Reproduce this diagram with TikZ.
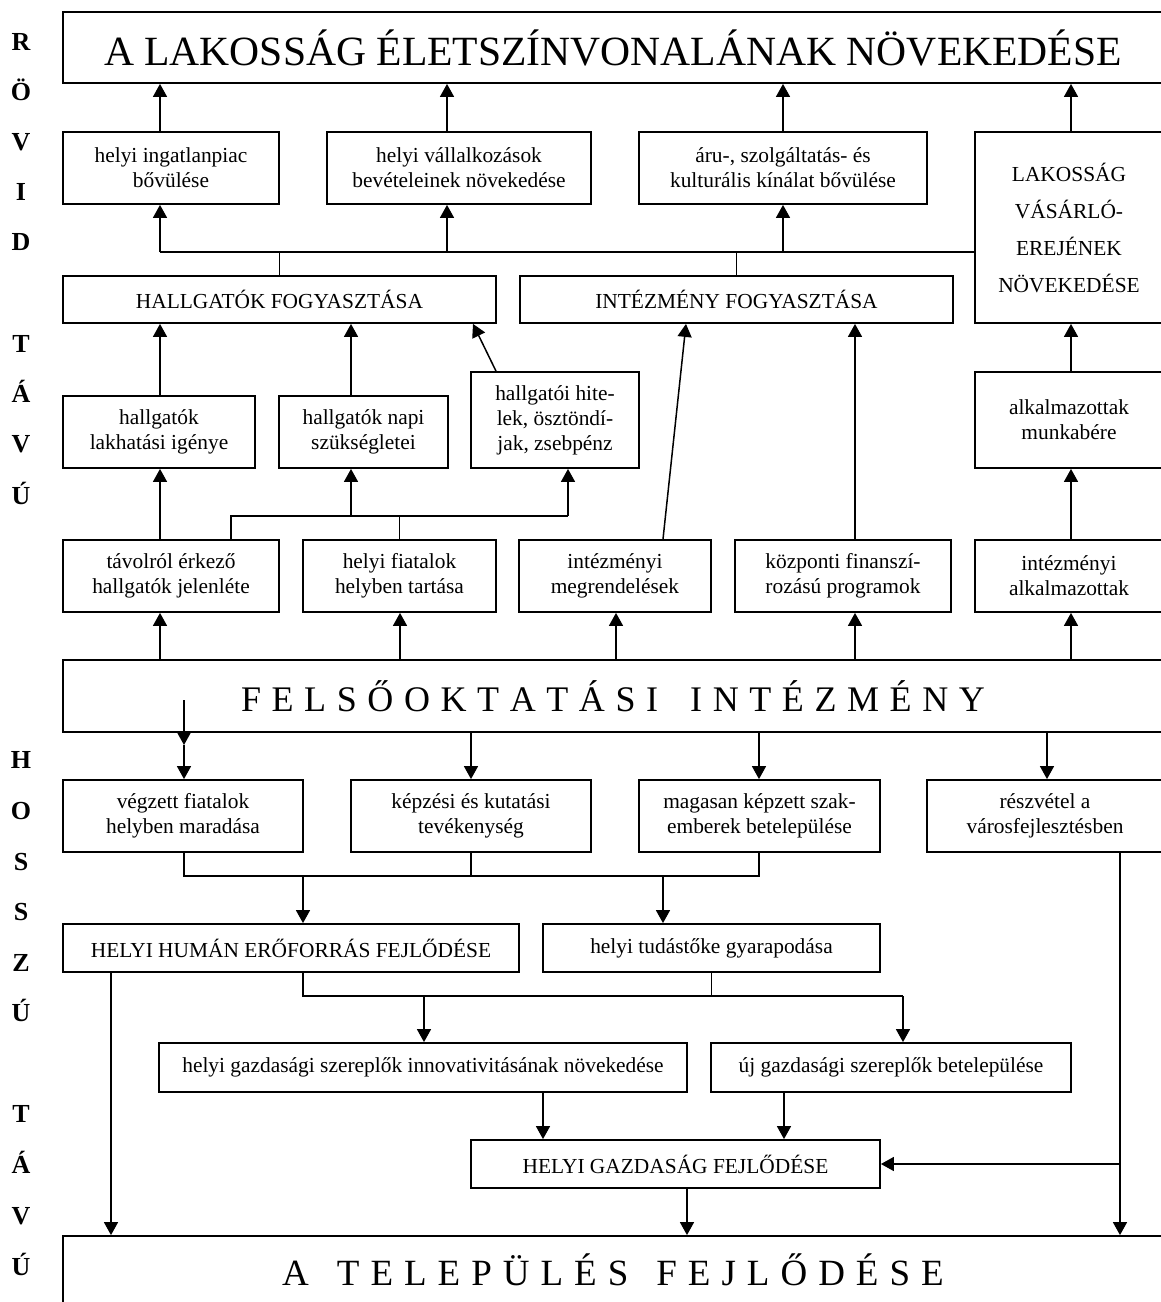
\documentclass[tikz,border=0pt]{standalone}
\usepackage{fontspec}
\setmainfont{Liberation Serif}
\usetikzlibrary{arrows.meta}
\tikzset{
  box/.style={draw,line width=0.9pt,inner sep=0pt,align=center,font=\fontsize{10.7}{12.5}\selectfont},
  arr/.style={line width=0.75pt,-{Triangle[length=6.5pt,width=7pt]}},
  ln/.style={line width=0.75pt},
  side/.style={anchor=base,inner sep=0pt,font=\fontsize{13}{15}\selectfont\bfseries}
}
\begin{document}
\begin{tikzpicture}[x=0.5pt,y=-0.5pt]
                \useasboundingbox (0,0) rectangle (1161,1302);

                % side letters
                \foreach \l/\y in {R/50,Ö/100,V/150,I/200,D/250,T/352,Á/402,V/452,Ú/504,
                    H/768,O/819,S/870,S/920,Z/971,Ú/1021,T/1122,Á/1173,V/1224,Ú/1275}
                    \node[side] (s\y) at (21,\y) {\l};

                % short term
                \node[box,minimum width=550pt,minimum height=35.5pt,font=\fontsize{20.8}{24}\selectfont] (top) at (613,47.5) {A LAKOSSÁG ÉLETSZÍNVONALÁNAK NÖVEKEDÉSE};
                \node[box,minimum width=108pt,minimum height=36pt] (ing) at (171,168) {helyi ingatlanpiac\\bővülése};
                \node[box,minimum width=132pt,minimum height=36pt] (vall) at (459,168) {helyi vállalkozások\\bevételeinek növekedése};
                \node[box,minimum width=144pt,minimum height=36pt] (aru) at (783,168) {áru-, szolgáltatás- és\\kulturális kínálat bővülése};
                \node[box,minimum width=94pt,minimum height=95.5pt,font=\fontsize{10.7}{18.5}\selectfont] (lak) at (1069,227.5) {LAKOSSÁG\\VÁSÁRLÓ-\\EREJÉNEK\\NÖVEKEDÉSE};
                \node[box,minimum width=216.5pt,minimum height=23.5pt] (hf) at (279.5,299.5) {HALLGATÓK FOGYASZTÁSA};
                \node[box,minimum width=216.5pt,minimum height=23.5pt] (inf) at (736.5,299.5) {INTÉZMÉNY FOGYASZTÁSA};
                \node[box,minimum width=96pt,minimum height=36pt] (lakh) at (159,432) {hallgatók\\lakhatási igénye};
                \node[box,minimum width=84.5pt,minimum height=36pt] (napi) at (363.5,432) {hallgatók napi\\szükségletei};
                \node[box,minimum width=84pt,minimum height=48pt] (hitel) at (555,420) {hallgatói hite-\\lek, ösztöndí-\\jak, zsebpénz};
                \node[box,minimum width=94pt,minimum height=48pt] (munka) at (1069,420) {alkalmazottak\\munkabére};
                \node[box,minimum width=108pt,minimum height=36pt] (tav) at (171,576) {távolról érkező\\hallgatók jelenléte};
                \node[box,minimum width=96.5pt,minimum height=36pt] (hfi) at (399.5,576) {helyi fiatalok\\helyben tartása};
                \node[box,minimum width=96pt,minimum height=36pt] (meg) at (615,576) {intézményi\\megrendelések};
                \node[box,minimum width=108pt,minimum height=36pt] (kozp) at (843,576) {központi finanszí-\\rozású programok};
                \node[box,minimum width=94pt,minimum height=36pt] (alk) at (1069,576) {intézményi\\alkalmazottak};

                % institution
                \node[box,minimum width=550pt,minimum height=36pt,font=\fontsize{18}{20}\selectfont] (fo) at (613,696) {\spaceskip=5.3pt\relax F E L S Ő O K T A T Á S I\hspace{16pt}I N T É Z M É N Y};

                % long term
                \node[box,minimum width=120pt,minimum height=36pt] (veg) at (183,816) {végzett fiatalok\\helyben maradása};
                \node[box,minimum width=120pt,minimum height=36pt] (kep) at (471,816) {képzési és kutatási\\tevékenység};
                \node[box,minimum width=120.5pt,minimum height=36pt] (mag) at (759.5,816) {magasan képzett szak-\\emberek betelepülése};
                \node[box,minimum width=118pt,minimum height=36pt] (resz) at (1045,816) {részvétel a\\városfejlesztésben};
                \node[box,minimum width=228pt,minimum height=24pt] (hum) at (291,948) {HELYI HUMÁN ERŐFORRÁS FEJLŐDÉSE};
                \node[box,minimum width=168.5pt,minimum height=24pt] (tud) at (711.5,948) {helyi tudástőke gyarapodása};
                \node[box,minimum width=264pt,minimum height=24.5pt] (inn) at (423,1067.5) {helyi gazdasági szereplők innovativitásának növekedése};
                \node[box,minimum width=180pt,minimum height=24.5pt] (uj) at (891,1067.5) {új gazdasági szereplők betelepülése};
                \node[box,minimum width=204.5pt,minimum height=24pt] (gaz) at (675.5,1164) {HELYI GAZDASÁG FEJLŐDÉSE};
                \node[box,minimum width=550pt,minimum height=34pt,font=\fontsize{18.5}{20}\selectfont] (tel) at (613,1270) {\spaceskip=5.5pt\relax A\hspace{14pt}T E L E P Ü L É S\hspace{14pt}F E J L Ő D É S E};

                % upper links
                \draw[arr] (160,0 |- ing.north) -- (160,0 |- top.south);
                \draw[arr] (447,0 |- vall.north) -- (447,0 |- top.south);
                \draw[arr] (aru.north) -- (aru.north |- top.south);
                \draw[arr] (1071,0 |- lak.north) -- (1071,0 |- top.south);
                \draw[ln] (160,252) -- (lak.west |- 0,252);
                \draw[arr] (160,252) -- (160,0 |- ing.south);
                \draw[arr] (447,252) -- (447,0 |- vall.south);
                \draw[arr] (783,252) -- (783,0 |- aru.south);
                \draw[ln] (hf.north) -- (hf.north |- 0,252);
                \draw[ln] (inf.north) -- (inf.north |- 0,252);
                \draw[arr] (160,0 |- lakh.north) -- (160,0 |- hf.south);
                \draw[arr] (351,0 |- napi.north) -- (351,0 |- hf.south);
                \draw[arr] (496,0 |- hitel.north) -- (473,0 |- hf.south);
                \draw[arr] (1071,0 |- munka.north) -- (1071,0 |- lak.south);
                \draw[arr] (160,0 |- tav.north) -- (160,0 |- lakh.south);
                \draw[ln] (231,0 |- tav.north) -- (231,516) -- (568,516);
                \draw[ln] (hfi.north) -- (hfi.north |- 0,516);
                \draw[arr] (351,516) -- (351,0 |- napi.south);
                \draw[arr] (568,516) -- (568,0 |- hitel.south);
                \draw[arr] (663,0 |- meg.north) -- (686,0 |- inf.south);
                \draw[arr] (855,0 |- kozp.north) -- (855,0 |- inf.south);
                \draw[arr] (1071,0 |- alk.north) -- (1071,0 |- munka.south);
                \foreach \x in {160,400,616,855,1071}
                    \draw[arr] (\x,0 |- fo.north) -- (\x,0 |- tav.south);

                % lower links
                \coordinate (fin) at (184,700);
                \coordinate (fout) at (184,745);
                \draw[arr] (fin) -- (fout);
                \draw[arr] (fout) -- (184,0 |- veg.north);
                \foreach \x in {471,759,1047}
                    \draw[arr] (\x,0 |- fo.south) -- (\x,0 |- veg.north);
                \draw[ln] (184,0 |- veg.south) -- (184,876) -- (759,876) -- (759,0 |- mag.south);
                \draw[ln] (kep.south) -- (kep.south |- 0,876);
                \draw[arr] (303,876) -- (303,0 |- hum.north);
                \draw[arr] (663,876) -- (663,0 |- tud.north);
                \draw[arr] (111,0 |- hum.south) -- (111,0 |- tel.north);
                \draw[ln] (303,0 |- hum.south) -- (303,996) -- (903,996);
                \draw[ln] (tud.south) -- (tud.south |- 0,996);
                \draw[arr] (424,996) -- (424,0 |- inn.north);
                \draw[arr] (903,996) -- (903,0 |- uj.north);
                \draw[arr] (543,0 |- inn.south) -- (543,0 |- gaz.north);
                \draw[arr] (784,0 |- uj.south) -- (784,0 |- gaz.north);
                \draw[arr] (687,0 |- gaz.south) -- (687,0 |- tel.north);
                \draw[arr] (1120,0 |- resz.south) -- (1120,0 |- tel.north);
                \draw[arr] (1120,0 |- gaz.east) -- (gaz.east);
\end{tikzpicture}
\end{document}
